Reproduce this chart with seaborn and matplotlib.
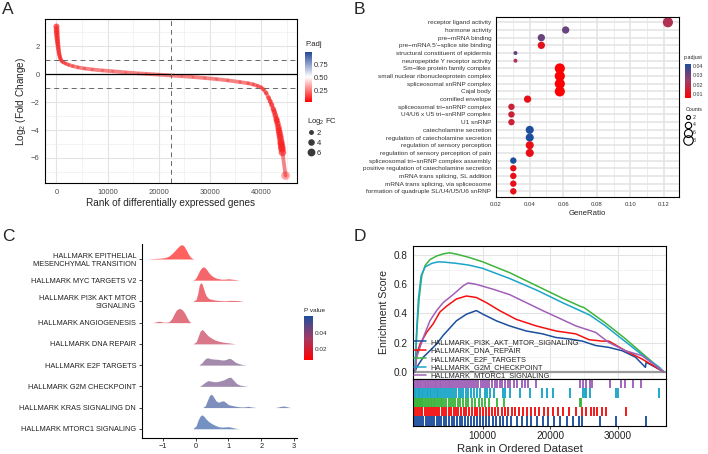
import numpy as np
import pandas as pd
import seaborn as sns
import matplotlib.pyplot as plt
from matplotlib.colors import LinearSegmentedColormap, Normalize
from matplotlib.cm import ScalarMappable
from matplotlib.lines import Line2D

sns.set_theme(style="white")
plt.rcParams['font.family'] = ['Liberation Sans', 'DejaVu Sans']
plt.rcParams['mathtext.fontset'] = 'custom'
plt.rcParams['mathtext.rm'] = 'Liberation Sans'

W, H = 708, 454

# ---------------- A: ranked log2 fold change
rank_a = [0, 30, 60, 100, 150, 200, 260, 330, 400, 480,
          570, 680, 800, 1000, 1300, 1800, 2400, 3200, 4200, 5500,
          7000, 9000, 11000, 13600, 16000, 17500, 20000, 22400, 24500, 26700,
          29000, 31300, 33500, 35900, 37500, 38500, 39300, 40000, 40500, 41000,
          41500, 41800, 42100, 42400, 42600, 42800, 43000, 43100, 43250, 43400,
          43500, 43600, 43700, 43800, 43900, 43950, 44050, 44100, 44200, 44800]
fc_a = [3.4, 3.15, 2.95, 2.75, 2.55, 2.35, 2.15, 1.95, 1.75, 1.55,
        1.38, 1.22, 1.08, 0.95, 0.85, 0.75, 0.66, 0.57, 0.48, 0.4,
        0.33, 0.26, 0.2, 0.12, 0.05, 0.02, -0.04, -0.1, -0.15, -0.21,
        -0.28, -0.36, -0.45, -0.57, -0.66, -0.74, -0.84, -0.95, -1.1, -1.35,
        -1.7, -1.95, -2.2, -2.5, -2.7, -2.95, -3.2, -3.35, -3.55, -3.8,
        -4.0, -4.2, -4.4, -4.6, -4.85, -5.0, -5.2, -5.35, -5.6, -7.26]
padj_a = [0.01, 0.01, 0.01, 0.01, 0.01, 0.01, 0.01, 0.02, 0.02, 0.02,
          0.03, 0.03, 0.04, 0.05, 0.07, 0.09, 0.11, 0.13, 0.15, 0.18,
          0.2, 0.22, 0.24, 0.26, 0.28, 0.28, 0.28, 0.28, 0.27, 0.26,
          0.24, 0.22, 0.2, 0.17, 0.14, 0.12, 0.1, 0.08, 0.06, 0.05,
          0.04, 0.03, 0.03, 0.02, 0.02, 0.02, 0.01, 0.01, 0.01, 0.01,
          0.01, 0.01, 0.01, 0.01, 0.01, 0.01, 0.01, 0.01, 0.01, 0.2]
split_rank = 22360

# ---------------- B: GO enrichment dot plot
terms_b = ["receptor ligand activity", "hormone activity", "pre\u2212mRNA binding",
           "pre\u2212mRNA 5'\u2212splice site binding", "structural constituent of epidermis",
           "neuropeptide Y receptor activity", "Sm\u2212like protein family complex",
           "small nuclear ribonucleoprotein complex", "spliceosomal snRNP complex",
           "Cajal body", "cornified envelope", "spliceosomal tri\u2212snRNP complex",
           "U4/U6 x U5 tri\u2212snRNP complex", "U1 snRNP", "catecholamine secretion",
           "regulation of catecholamine secretion", "regulation of sensory perception",
           "regulation of sensory perception of pain",
           "spliceosomal tri\u2212snRNP complex assembly",
           "positive regulation of catecholamine secretion",
           "mRNA trans splicing, SL addition", "mRNA trans splicing, via spliceosome",
           "formation of quadruple SL/U4/U5/U6 snRNP"]
ratio_b = [0.1224, 0.0615, 0.047, 0.047, 0.0316, 0.0316, 0.058, 0.058, 0.058, 0.058,
           0.0388, 0.0292, 0.0292, 0.0292, 0.0401, 0.0401, 0.0401, 0.0401,
           0.0303, 0.0303, 0.0303, 0.0303, 0.0303]
count_b = [9, 5, 5, 5, 2, 2, 9, 9, 9, 9, 5, 4, 4, 4, 6, 6, 6, 6, 4, 4, 4, 4, 4]
padj_b = [0.021, 0.032, 0.032, 0.011, 0.033, 0.022, 0.0055, 0.0055, 0.0055, 0.0055,
          0.01, 0.016, 0.016, 0.016, 0.0425, 0.0425, 0.01, 0.01,
          0.0425, 0.01, 0.01, 0.01, 0.01]

# ---------------- C: ridge plot of hallmark sets
terms_c = ["HALLMARK EPITHELIAL\nMESENCHYMAL TRANSITION", "HALLMARK MYC TARGETS V2",
           "HALLMARK PI3K AKT MTOR\nSIGNALING", "HALLMARK ANGIOGENESIS",
           "HALLMARK DNA REPAIR", "HALLMARK E2F TARGETS", "HALLMARK G2M CHECKPOINT",
           "HALLMARK KRAS SIGNALING DN", "HALLMARK MTORC1 SIGNALING"]
pval_c = [0.0054, 0.010, 0.014, 0.020, 0.024, 0.045, 0.046, 0.058, 0.0617]

emt_x = [-1.48, -1.28, -1.07, -0.92, -0.82, -0.72, -0.64, -0.57, -0.5, -0.44, -0.39,
         -0.34, -0.28, -0.22, -0.16, -0.1, -0.05]
emt_h = [0.0, 0.02, 0.04, 0.07, 0.13, 0.25, 0.38, 0.5, 0.61, 0.67, 0.66,
         0.58, 0.42, 0.24, 0.1, 0.03, 0.0]
myc_x = [-0.08, 0.0, 0.06, 0.12, 0.18, 0.23, 0.28, 0.34, 0.4, 0.47, 0.55, 0.65,
         0.78, 0.9, 1.0, 1.1, 1.2, 1.32]
myc_h = [0, 0.08, 0.25, 0.45, 0.58, 0.63, 0.6, 0.5, 0.36, 0.24, 0.15, 0.09,
         0.05, 0.05, 0.07, 0.05, 0.03, 0]
pi3k_x = [-0.08, 0.02, 0.07, 0.11, 0.15, 0.19, 0.23, 0.28, 0.33, 0.4, 0.5, 0.62,
          0.75, 0.9, 1.05, 1.15, 1.3, 1.45]
pi3k_h = [0, 0.1, 0.4, 0.75, 0.88, 0.85, 0.68, 0.42, 0.25, 0.14, 0.09, 0.06,
          0.04, 0.03, 0.05, 0.05, 0.04, 0]
angio_x = [-1.3, -1.2, -1.1, -1.0, -0.9, -0.8, -0.72, -0.65, -0.58, -0.5, -0.44,
           -0.38, -0.32, -0.26, -0.2, -0.14]
angio_h = [0, 0.04, 0.07, 0.03, 0.02, 0.05, 0.2, 0.42, 0.6, 0.67, 0.65,
           0.56, 0.42, 0.24, 0.08, 0]
dna_x = [-0.08, 0.02, 0.08, 0.14, 0.2, 0.26, 0.32, 0.4, 0.5, 0.6, 0.72, 0.85, 1.0, 1.1, 1.22]
dna_h = [0, 0.1, 0.35, 0.6, 0.68, 0.6, 0.48, 0.36, 0.26, 0.18, 0.12, 0.08, 0.05, 0.03, 0]
e2f_x = [0.1, 0.2, 0.28, 0.36, 0.44, 0.52, 0.6, 0.7, 0.8, 0.9, 0.98, 1.05, 1.12,
         1.2, 1.3, 1.42, 1.55]
e2f_h = [0, 0.12, 0.28, 0.35, 0.31, 0.29, 0.28, 0.27, 0.24, 0.25, 0.3, 0.32, 0.25,
         0.15, 0.08, 0.03, 0]
g2m_x = [0.12, 0.2, 0.3, 0.38, 0.46, 0.55, 0.65, 0.75, 0.85, 0.95, 1.02, 1.08, 1.15,
         1.25, 1.35, 1.5, 1.62]
g2m_h = [0, 0.08, 0.2, 0.27, 0.25, 0.22, 0.22, 0.26, 0.3, 0.38, 0.43, 0.42, 0.3,
         0.13, 0.06, 0.02, 0]
kras_x = [0.22, 0.3, 0.37, 0.43, 0.49, 0.55, 0.62, 0.7, 0.78, 0.85, 0.92, 1.0, 1.1,
          1.2, 1.32, 1.42, 1.52, 1.6, 1.7, 1.85, 2.4, 2.5, 2.6, 2.7, 2.8, 2.9]
kras_h = [0, 0.1, 0.38, 0.58, 0.63, 0.5, 0.32, 0.25, 0.3, 0.32, 0.24, 0.14, 0.1,
          0.07, 0.04, 0.03, 0.04, 0.06, 0.03, 0.0, 0.0, 0.02, 0.06, 0.07, 0.03, 0]
mtorc1_x = [-0.08, 0.02, 0.08, 0.14, 0.2, 0.26, 0.32, 0.4, 0.5, 0.6, 0.7, 0.8, 0.9,
            1.0, 1.1, 1.2, 1.32]
mtorc1_h = [0, 0.15, 0.42, 0.6, 0.66, 0.58, 0.46, 0.34, 0.24, 0.16, 0.1, 0.08, 0.09,
            0.1, 0.07, 0.03, 0]

# ---------------- D: GSEA running scores
gsea_names = ["HALLMARK_PI3K_AKT_MTOR_SIGNALING", "HALLMARK_DNA_REPAIR",
              "HALLMARK_E2F_TARGETS", "HALLMARK_G2M_CHECKPOINT", "HALLMARK_MTORC1_SIGNALING"]
gsea_colors = ["#1B4F9C", "#F51010", "#3DB53D", "#1AA5C8", "#A060B8"]

rank_pi3k = [0, 245, 1225, 2205, 3185, 4165, 5145, 6125, 7595, 9065, 10045, 12005, 13965,
             16415, 18865, 20825, 22785, 24745, 26705, 28665, 30625, 32585, 34055, 34160, 36750]
es_pi3k = [0, 0.03, 0.1, 0.145, 0.19, 0.25, 0.30, 0.35, 0.395, 0.42, 0.395, 0.35, 0.315,
           0.28, 0.26, 0.235, 0.225, 0.21, 0.18, 0.167, 0.144, 0.1, 0.03, 0.065, 0.0]
rank_dna = [0, 245, 735, 1715, 2695, 3675, 4655, 6125, 7595, 9065, 10535, 12495, 14945,
            17885, 20825, 23765, 25725, 27685, 28665, 31115, 33565, 36750]
es_dna = [0, 0.12, 0.19, 0.27, 0.33, 0.41, 0.45, 0.50, 0.52, 0.51, 0.475, 0.42, 0.36,
          0.315, 0.28, 0.26, 0.22, 0.21, 0.21, 0.144, 0.087, 0.0]
rank_e2f = [0, 300, 600, 1000, 1500, 2200, 3200, 4200, 5100, 6100, 8000, 10000, 14000,
            18000, 22000, 24400, 25000, 28000, 31000, 34000, 36750]
es_e2f = [0, 0.30, 0.50, 0.66, 0.73, 0.77, 0.795, 0.81, 0.817, 0.808, 0.785, 0.755, 0.68,
          0.59, 0.50, 0.45, 0.44, 0.34, 0.23, 0.11, 0.0]
rank_g2m = [0, 200, 500, 900, 1500, 2500, 3500, 4500, 6000, 8000, 10000, 14000, 18000,
            22000, 25800, 28000, 31000, 34000, 36130, 36750]
es_g2m = [0, 0.25, 0.50, 0.66, 0.72, 0.745, 0.755, 0.752, 0.745, 0.732, 0.71, 0.64, 0.56,
          0.47, 0.39, 0.32, 0.21, 0.10, 0.03, 0.0]
rank_mtorc1 = [0, 245, 1225, 2205, 3185, 4165, 5635, 7105, 7840, 9065, 11515, 13965,
               18865, 23765, 26705, 28665, 31115, 33565, 36750]
es_mtorc1 = [0, 0.1, 0.235, 0.35, 0.42, 0.475, 0.53, 0.59, 0.61, 0.60, 0.567, 0.53,
             0.42, 0.315, 0.27, 0.2, 0.144, 0.11, 0.0]

hits_mtorc1 = [50, 250, 480, 700, 950, 1150, 1400, 1650, 1850, 2100, 2400, 2650, 2900, 3150,
               3350, 3650, 3900, 4100, 4400, 4700, 4950, 5200, 5500, 5800, 6100, 6300, 6600,
               6900, 7200, 7500, 7800, 8100, 8350, 8700, 9000, 9300, 9700, 10000, 10300,
               10700, 11000, 11400, 11800, 12100, 12500, 12900, 13300, 13700, 14100, 14600,
               15000, 15780, 16270, 16760, 17890, 24360, 24850, 25340, 25830, 26180, 28770,
               30490, 30980, 32200, 33430]
hits_g2m = [30, 200, 400, 600, 800, 1000, 1250, 1450, 1700, 1900, 2150, 2400, 2650, 2900,
            3200, 3450, 3700, 4000, 4300, 4550, 4850, 5150, 5450, 5800, 6100, 6450, 6800,
            7150, 7500, 7900, 8300, 8700, 9100, 9600, 10390, 10640, 11130, 11620, 12990,
            13330, 14070, 15540, 17010, 18730, 19460, 20440, 22890, 24850, 25100, 25340,
            25830, 29750, 30000, 36130]
hits_e2f = [20, 150, 300, 450, 600, 750, 900, 1100, 1250, 1450, 1650, 1850, 2050, 2300,
            2500, 2750, 3000, 3250, 3500, 3800, 4050, 4350, 4650, 4950, 5300, 5600, 5950,
            6300, 6700, 7100, 7500, 7900, 8400, 8900, 9400, 9900, 10400, 11000, 12110,
            13090, 24360, 24600]
hits_dna = [40, 300, 600, 850, 1100, 1400, 1700, 2000, 2300, 2600, 2950, 3300, 3600, 3950,
            4300, 4650, 5000, 5350, 5700, 6050, 6400, 6800, 7200, 7600, 8000, 8400, 8800,
            9200, 9600, 10000, 10450, 10900, 11350, 11800, 12300, 12800, 13300, 13800,
            14300, 14800, 15300, 15900, 16500, 17100, 17700, 18300, 19000, 19700, 20400,
            21100, 21900, 22700, 23765, 24745, 25235, 25970, 26460, 26950, 27685, 28175,
            31115]
hits_pi3k = [60, 350, 650, 950, 1250, 1550, 1850, 2150, 2500, 2850, 3200, 3550, 3900, 4250,
             4600, 5000, 5400, 5800, 6200, 6600, 7000, 7400, 7800, 8200, 8650, 9100, 9550,
             10000, 10500, 11000, 11500, 12000, 12500, 13000, 13600, 14200, 15000, 15800,
             16500, 17200, 18100, 18900, 19700, 20600, 21500, 22400, 23300, 24200, 24700,
             27300, 29750, 34160]


def box(x0, y0, x1, y1):
    return [x0 / W, 1 - y1 / H, (x1 - x0) / W, (y1 - y0) / H]


def style_bw(ax):
    for s in ax.spines.values():
        s.set_visible(True)
        s.set_color("black")
        s.set_linewidth(0.8)
    ax.set_axisbelow(True)
    ax.grid(which="major", color="#E3E3E3", lw=0.8)
    ax.grid(which="minor", color="#EEEEEE", lw=0.5)


fig = plt.figure(figsize=(W / 100, H / 100), dpi=100)
cmap_a = LinearSegmentedColormap.from_list("padj_a", ["#FF0000", "#FFFFFF", "#24479A"])
cmap_rb = LinearSegmentedColormap.from_list("rb", ["#FF0000", "#A23A64", "#1F4E9C"])
tick_col = "#4D4D4D"

# ================= A
axA = fig.add_axes(box(45, 19, 297, 183))
df_a = pd.DataFrame({"rank": rank_a, "fc": fc_a, "padj": padj_a})
df_a["absfc"] = df_a["fc"].abs()
sns.lineplot(data=df_a, x="rank", y="fc", estimator=None, color="#F03030", lw=2.7,
             alpha=0.6, ax=axA)
sns.scatterplot(data=df_a, x="rank", y="fc", hue="padj", palette=cmap_a, hue_norm=(0, 1),
                size="absfc", sizes=(3, 38), size_norm=(0, 7.3), alpha=0.6, linewidth=0,
                legend=False, ax=axA)
axA.axhline(0, color="black", lw=0.9)
for yv in (1, -1):
    axA.axhline(yv, color="#666666", lw=0.7, ls=(0, (5, 4)))
axA.axvline(split_rank, color="#666666", lw=0.7, ls=(0, (5, 4)))
axA.set_xlim(-2240, 47040)
axA.set_ylim(-7.79, 3.94)
axA.set_xticks([0, 10000, 20000, 30000, 40000])
axA.set_xticks([5000, 15000, 25000, 35000, 45000], minor=True)
axA.set_yticks([-6, -4, -2, 0, 2])
axA.set_yticks([-7, -5, -3, -1, 1, 3], minor=True)
style_bw(axA)
axA.tick_params(which="major", labelsize=5.5, length=2.5, width=0.6, colors=tick_col, pad=1.5)
axA.tick_params(which="minor", length=0)
axA.set_xlabel("Rank of differentially expressed genes", fontsize=7.2, labelpad=2)
axA.set_ylabel("Log$_2$ (Fold Change)", fontsize=7.2, labelpad=2)

caxA = fig.add_axes(box(305, 52, 312, 102))
cbA = fig.colorbar(ScalarMappable(norm=Normalize(0.015, 1.0), cmap=cmap_a), cax=caxA)
cbA.outline.set_visible(False)
cbA.set_ticks([0.25, 0.5, 0.75])
cbA.set_ticklabels(["0.25", "0.50", "0.75"])
caxA.tick_params(direction="in", length=2, width=0.5, color="white", labelsize=5.5,
                 labelcolor="#333333", pad=1.5)
fig.text(305 / W, 1 - 44 / H, "P.adj", fontsize=5.5, va="center", color="#222222")
size_vals_a = [2, 4, 6]
hA = [Line2D([], [], ls="none", marker="o", ms=np.sqrt(3 + v * 35 / 7.3), mfc="#3A3A3A",
             mec="none") for v in size_vals_a]
legA = fig.legend(hA, [str(v) for v in size_vals_a], title="Log$_2$ FC", loc="upper left",
                  bbox_to_anchor=(303 / W, 1 - 112 / H), frameon=False, fontsize=5.5,
                  title_fontsize=5.5, handletextpad=0.3, labelspacing=0.35, borderpad=0,
                  handlelength=1.0)
legA._legend_box.align = "left"

# ================= B
axB = fig.add_axes(box(496, 17, 679, 197))
df_b = pd.DataFrame({"term": terms_b, "ratio": ratio_b, "count": count_b, "padj": padj_b})
sns.scatterplot(data=df_b, x="ratio", y="term", hue="padj", palette=cmap_rb,
                hue_norm=(0.0055, 0.0425), size="count", sizes=(8.3, 53.2), size_norm=(2, 9),
                linewidth=0, legend=False, ax=axB)
axB.set_ylim(22.74, -0.69)
axB.set_xlim(0.021, 0.129)
axB.set_xticks([0.02, 0.04, 0.06, 0.08, 0.10, 0.12])
axB.set_xticklabels(["0.02", "0.04", "0.06", "0.08", "0.10", "0.12"])
axB.set_xticks([0.03, 0.05, 0.07, 0.09, 0.11], minor=True)
style_bw(axB)
axB.grid(which="major", color="#E3E3E3", lw=1.1)
axB.grid(which="minor", axis="x", color="#ECECEC", lw=0.7)
axB.tick_params(which="major", length=2, width=0.6, colors="#333333", pad=1.5)
axB.tick_params(axis="y", labelsize=4.6)
axB.tick_params(axis="x", labelsize=4.3)
axB.tick_params(which="minor", length=0)
axB.set_ylabel("")
axB.set_xlabel("GeneRatio", fontsize=5.6, labelpad=2)

caxB = fig.add_axes(box(685, 64, 691, 98))
cbB = fig.colorbar(ScalarMappable(norm=Normalize(0.0055, 0.0425), cmap=cmap_rb), cax=caxB)
cbB.outline.set_visible(False)
cbB.set_ticks([0.01, 0.02, 0.03, 0.04])
cbB.set_ticklabels(["0.01", "0.02", "0.03", "0.04"])
caxB.tick_params(direction="in", length=1.5, width=0.4, color="white", labelsize=3.8,
                 labelcolor="#333333", pad=1)
fig.text(684 / W, 1 - 58 / H, "p.adjust", fontsize=3.8, va="center", color="#222222")
size_vals_b = [2, 4, 6, 8]
hB = [Line2D([], [], ls="none", marker="o", ms=np.sqrt(8.3 + (v - 2) * 6.41), mfc="none",
             mec="black", mew=0.8) for v in size_vals_b]
legB = fig.legend(hB, [str(v) for v in size_vals_b], title="Counts", loc="upper left",
                  bbox_to_anchor=(683 / W, 1 - 104 / H), frameon=False, fontsize=3.8,
                  title_fontsize=3.8, handletextpad=0.4, labelspacing=0.55, borderpad=0,
                  handlelength=1.0)
legB._legend_box.align = "left"

# ================= C
axC = fig.add_axes(box(141.7, 243.7, 296.7, 437.7))
ridge_x = [emt_x, myc_x, pi3k_x, angio_x, dna_x, e2f_x, g2m_x, kras_x, mtorc1_x]
ridge_h = [emt_h, myc_h, pi3k_h, angio_h, dna_h, e2f_h, g2m_h, kras_h, mtorc1_h]
norm_c = Normalize(0.0054, 0.0617)
n_c = len(terms_c)
for i, (xs, hs, p) in enumerate(zip(ridge_x, ridge_h, pval_c)):
    base = n_c - 1 - i
    axC.fill_between(xs, base, [base + h for h in hs], color=cmap_rb(norm_c(p)),
                     alpha=0.62, lw=0, zorder=2 + i)
axC.set_xlim(-1.64, 3.08)
axC.set_ylim(-0.42, 8.72)
axC.set_yticks(range(n_c))
axC.set_yticklabels(terms_c[::-1])
axC.set_xticks([-1, 0, 1, 2, 3])
for s in ("top", "right"):
    axC.spines[s].set_visible(False)
for s in ("left", "bottom"):
    axC.spines[s].set_color("black")
    axC.spines[s].set_linewidth(0.8)
axC.tick_params(length=2.5, width=0.6, colors="#222222", labelsize=5.3, pad=1.5, left=True,
                bottom=True)

caxC = fig.add_axes(box(304, 316, 313, 360))
cbC = fig.colorbar(ScalarMappable(norm=norm_c, cmap=cmap_rb), cax=caxC)
cbC.outline.set_visible(False)
cbC.set_ticks([0.02, 0.04])
cbC.set_ticklabels(["0.02", "0.04"])
caxC.tick_params(direction="in", length=2, width=0.5, color="white", labelsize=4.6,
                 labelcolor="#333333", pad=1.5)
fig.text(304 / W, 1 - 310 / H, "P value", fontsize=4.6, va="center", color="#222222")

# ================= D
axD = fig.add_axes(box(413, 245.5, 666, 379))
axR = fig.add_axes(box(413, 379, 666, 425.7))
gsea_rank = [rank_pi3k, rank_dna, rank_e2f, rank_g2m, rank_mtorc1]
gsea_es = [es_pi3k, es_dna, es_e2f, es_g2m, es_mtorc1]
for name, col, xr, yr in zip(gsea_names, gsea_colors, gsea_rank, gsea_es):
    sns.lineplot(x=xr, y=yr, color=col, lw=1.1, estimator=None, label=name, ax=axD)
axD.axhline(0, color="#9A9A9A", lw=1.6, zorder=1.5)
axD.set_xlim(-300, 37100)
axD.set_ylim(-0.05, 0.867)
axD.set_xticks([10000, 20000, 30000])
axD.set_xticks([5000, 15000, 25000, 35000], minor=True)
axD.set_yticks([0.0, 0.2, 0.4, 0.6, 0.8])
axD.set_yticklabels(["0.0", "0.2", "0.4", "0.6", "0.8"])
axD.set_yticks([0.1, 0.3, 0.5, 0.7], minor=True)
style_bw(axD)
axD.tick_params(axis="x", which="both", length=0, labelbottom=False)
axD.tick_params(axis="y", which="major", length=2.5, width=0.6, labelsize=7.2, pad=1.5,
                colors="#222222")
axD.tick_params(axis="y", which="minor", length=0)
axD.set_xlabel("")
axD.set_ylabel("Enrichment Score", fontsize=7.6, labelpad=3)
axD.legend(loc="lower left", bbox_to_anchor=(0.0, -0.01), frameon=False, fontsize=5.3,
           borderaxespad=0, borderpad=0.1, handlelength=1.7, handletextpad=0.5,
           labelspacing=0.17)

hit_sets = [hits_mtorc1, hits_g2m, hits_e2f, hits_dna, hits_pi3k]
hit_cols = [gsea_colors[4], gsea_colors[3], gsea_colors[2], gsea_colors[1], gsea_colors[0]]
for j, (hits, col) in enumerate(zip(hit_sets, hit_cols)):
    top = len(hit_sets) - j
    axR.vlines(hits, top - 1, top, color=col, lw=1.35)
axR.set_xlim(-300, 37100)
axR.set_ylim(0, 5)
axR.set_yticks([])
axR.set_xticks([10000, 20000, 30000])
for s in axR.spines.values():
    s.set_visible(True)
    s.set_color("black")
    s.set_linewidth(0.8)
axR.tick_params(axis="x", length=2.5, width=0.6, labelsize=7.2, pad=1.5, colors="#222222",
                bottom=True)
axR.set_xlabel("Rank in Ordered Dataset", fontsize=8.2, labelpad=1.5)
axR.xaxis.set_label_coords(0.423, -0.4)

# panel letters
for lab, (px, py) in zip("ABCD", [(2, 2), (354, 2), (2, 229), (354, 229)]):
    fig.text(px / W, 1 - py / H, lab, fontsize=12.5, va="top", ha="left")

fig.savefig("out.png", dpi=100)
